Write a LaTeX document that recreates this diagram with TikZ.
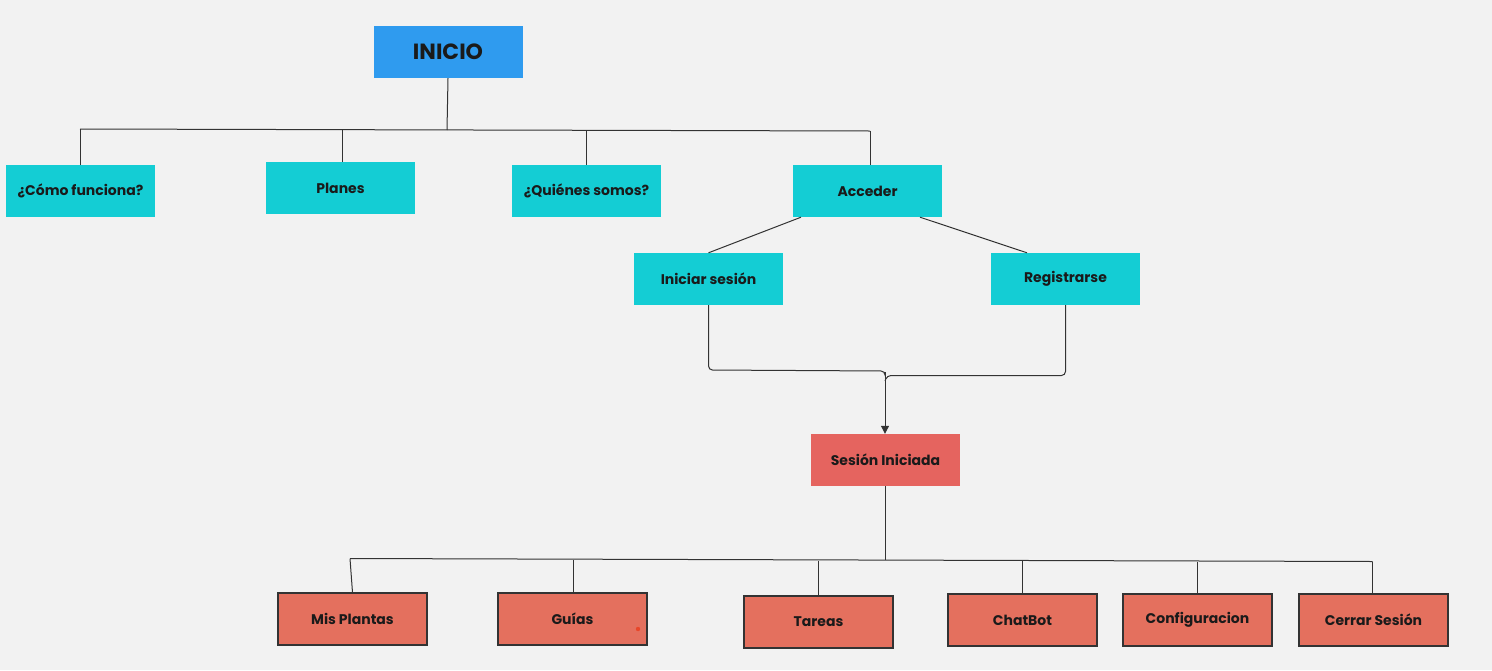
\documentclass[tikz,border=0pt]{standalone}
\usepackage{fontspec}
\setmainfont{Poppins}
\usetikzlibrary{arrows.meta}
\definecolor{bgc}{HTML}{F2F2F2}
\definecolor{bluec}{HTML}{2F9BEF}
\definecolor{cyanc}{HTML}{14CDD4}
\definecolor{redc}{HTML}{E5645F}
\definecolor{orangec}{HTML}{E4705E}
\definecolor{linec}{HTML}{333333}
\definecolor{txtc}{HTML}{1A1A1A}
\definecolor{dotc}{HTML}{E8472A}
\tikzset{
  box/.style={minimum width=149pt, minimum height=52pt, inner sep=0pt, text=txtc, font=\bfseries\fontsize{14}{16}\selectfont},
  topbox/.style={box, fill=bluec, font=\bfseries\fontsize{22}{25}\selectfont},
  cyanbox/.style={box, fill=cyanc},
  redbox/.style={box, fill=redc},
  leafbox/.style={box, fill=orangec, draw=linec, line width=1.1pt},
  conn/.style={draw=linec, line width=1pt},
}
\begin{document}
\begin{tikzpicture}[x=1pt,y=-1pt]
\fill[bgc] (0,0) rectangle (1492,670);
\useasboundingbox (0,0) rectangle (1492,670);

\node[topbox] (inicio) at (448,52) {INICIO};
\node[cyanbox] (como) at (80.5,191) {¿Cómo funciona?};
\node[cyanbox] (planes) at (340.5,188) {Planes};
\node[cyanbox] (quienes) at (586.5,191) {¿Quiénes somos?};
\node[cyanbox] (acceder) at (867.5,191) {Acceder};
\node[cyanbox] (iniciar) at (708.5,279) {Iniciar sesión};
\node[cyanbox] (registro) at (1065.5,279) {Registrarse};
\node[redbox] (sesion) at (885.5,460) {Sesión Iniciada};
\node[leafbox] (plantas) at (352.5,619) {Mis Plantas};
\node[leafbox] (guias) at (572.5,619) {Guías};
\node[leafbox] (tareas) at (818.5,622) {Tareas};
\node[leafbox] (chatbot) at (1022.5,620) {ChatBot};
\node[leafbox] (config) at (1197.5,620) {Configuracion};
\node[leafbox] (cerrar) at (1373.5,620) {Cerrar Sesión};
\fill[dotc] (638,629) circle (2.2pt);

% top bus
\coordinate (bA) at (447,130);
\coordinate (b1) at (80,129);
\coordinate (b2) at (342,129.5);
\coordinate (b3) at (586,131);
\coordinate (b4) at (870,131);
\draw[conn] (inicio.south) -- (bA);
\draw[conn] (b1) -- (b4);
\draw[conn] (b1) -- (como.north -| b1);
\draw[conn] (b2) -- (planes.north -| b2);
\draw[conn] (b3) -- (quienes.north -| b3);
\draw[conn] (b4) -- (acceder.north -| b4);

% acceder children
\draw[conn] ([xshift=-66.5pt]acceder.south) -- (iniciar.north);
\draw[conn] ([xshift=52.5pt]acceder.south) -- ([xshift=-38.5pt]registro.north);

% merge to sesion
\coordinate (m) at (885,372);
\draw[conn, rounded corners=4pt] (iniciar.south) -- (708.5,370) -- (885,371) -- (m);
\draw[conn, rounded corners=4pt] (registro.south) -- (1065.5,375.5) -- (887,375.5) -- (885,381);
\draw[conn, -{Triangle[length=8pt,width=8pt]}] (m) -- (sesion.north -| m);

% bottom bus
\coordinate (cA) at (885.5,560);
\coordinate (c1) at (350,558.5);
\coordinate (c2) at (573,560);
\coordinate (c3) at (818.5,561);
\coordinate (c4) at (1022.5,561);
\coordinate (c5) at (1197.5,561.5);
\coordinate (c6) at (1372.5,561.5);
\draw[conn] (sesion.south) -- (cA);
\draw[conn] (c1) -- (c6);
\draw[conn] (c1) -- (plantas.north);
\draw[conn] (c2) -- (guias.north -| c2);
\draw[conn] (c3) -- (tareas.north -| c3);
\draw[conn] (c4) -- (chatbot.north -| c4);
\draw[conn] (c5) -- (config.north -| c5);
\draw[conn] (c6) -- (cerrar.north -| c6);
\end{tikzpicture}
\end{document}
